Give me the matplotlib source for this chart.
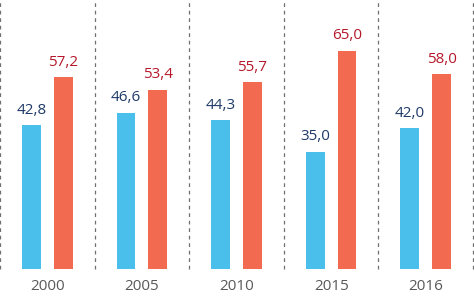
import numpy as np
import matplotlib
matplotlib.use("Agg")
import matplotlib.pyplot as plt

years = ["2000", "2005", "2010", "2015", "2016"]
blue_vals = [42.8, 46.6, 44.3, 35.0, 42.0]
red_vals = [57.2, 53.4, 55.7, 65.0, 58.0]

BLUE = "#4ABFEB"
RED = "#F26A50"
BLUE_TXT = "#1F3A68"
RED_TXT = "#B5182B"

plt.rcParams["font.family"] = ["Open Sans", "DejaVu Sans"]

fig = plt.figure(figsize=(4.74, 2.97), dpi=100)
ax = fig.add_axes([0, 0.094, 0.998, 0.906])

x = np.arange(len(years))
w = 0.2
off = 0.168
bb = ax.bar(x - off, blue_vals, w, color=BLUE)
br = ax.bar(x + off, red_vals, w, color=RED)

def fmt(v):
    return f"{v:.1f}".replace(".", ",")

for rect, v in zip(bb, blue_vals):
    ax.annotate(fmt(v), (rect.get_x() + rect.get_width() / 2, v), xytext=(0, 5.5),
                textcoords="offset points", ha="center", va="bottom",
                fontsize=11, color=BLUE_TXT)
for rect, v in zip(br, red_vals):
    ax.annotate(fmt(v), (rect.get_x() + rect.get_width() / 2, v), xytext=(0, 5.5),
                textcoords="offset points", ha="center", va="bottom",
                fontsize=11, color=RED_TXT)

# dashed separators between groups
for b in np.arange(-0.5, len(years), 1.0):
    ax.axvline(b, color="#707070", lw=0.9, ls=(0, (3, 3)), clip_on=False)

ax.set_xlim(-0.5, len(years) - 0.5)
ax.set_ylim(0, 80.2)
ax.set_xticks(x)
ax.set_xticklabels(years, fontsize=11, color="#595959")
ax.tick_params(axis="x", length=0, pad=7)
ax.set_yticks([])
for s in ax.spines.values():
    s.set_visible(False)

fig.savefig("out.png", dpi=100)
